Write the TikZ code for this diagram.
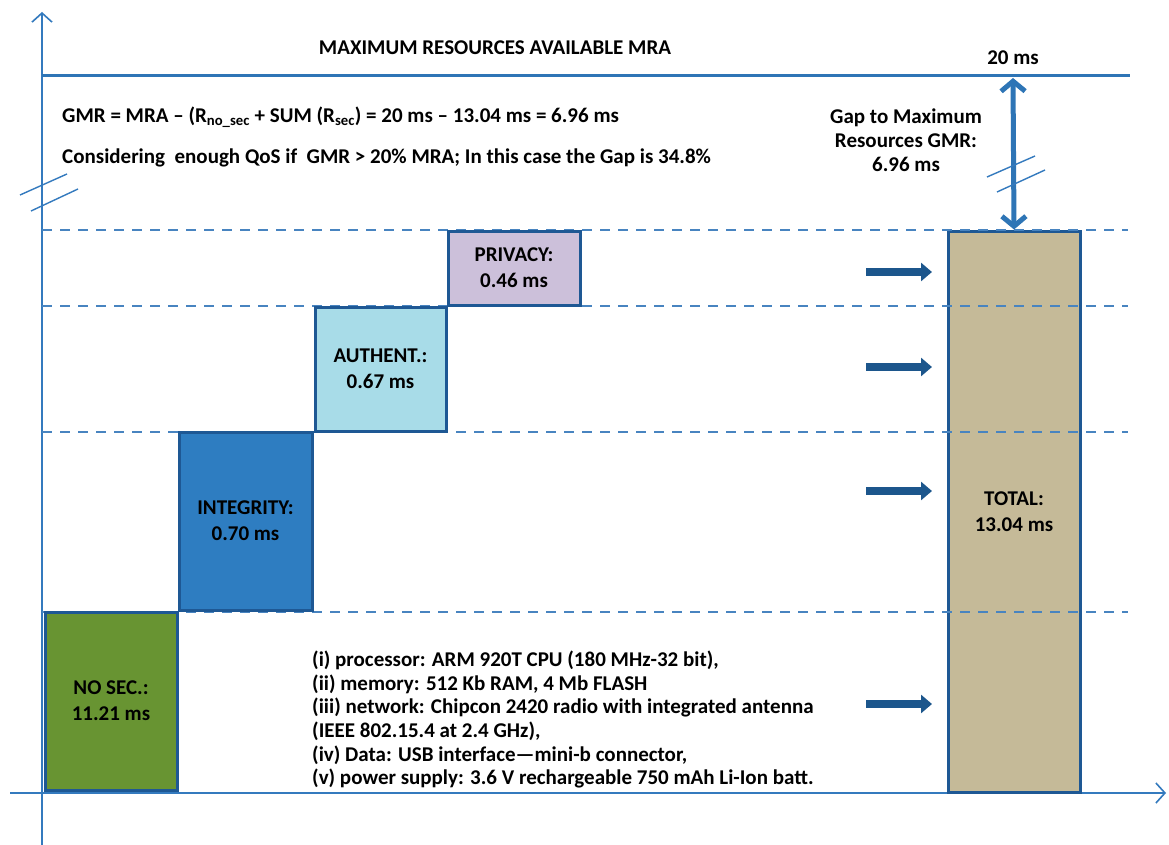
\documentclass[tikz,border=0pt]{standalone}
\usepackage{fontspec}
\setmainfont{Carlito}
\usetikzlibrary{arrows.meta}

\definecolor{axisblue}{RGB}{52,122,190}
\definecolor{mrablue}{RGB}{46,117,182}
\definecolor{edgeblue}{RGB}{30,88,148}
\definecolor{dashblue}{RGB}{72,132,192}
\definecolor{arrowblue}{RGB}{28,86,140}
\definecolor{nosecgreen}{RGB}{104,148,50}
\definecolor{integblue}{RGB}{46,125,193}
\definecolor{authblue}{RGB}{168,220,232}
\definecolor{privlilac}{RGB}{204,192,218}
\definecolor{totaltan}{RGB}{197,186,152}

\tikzset{
  axisline/.style={draw=axisblue, line width=1.6pt},
  axistip/.style={-{Straight Barb[length=9pt,width=20pt,line width=1.6pt]}},
  levelline/.style={draw=dashblue, line width=1.5pt, dash pattern=on 10pt off 8pt},
  breakmark/.style={draw=axisblue, line width=1.4pt},
  stepbox/.style={draw=edgeblue, line width=3pt, inner sep=0pt,
    font=\bfseries\fontsize{21}{26}\selectfont, align=center, text=black},
  pushtip/.style={draw=arrowblue, line width=8pt,
    -{Triangle[length=11pt,width=18pt]}},
  gaparrow/.style={draw=mrablue, line width=5pt,
    {Straight Barb[length=10pt,width=24pt,line width=5pt]}-{Straight Barb[length=10pt,width=24pt,line width=5pt]}},
  txt/.style={font=\bfseries\fontsize{21}{23.6}\selectfont, inner sep=0pt, text=black},
}

\begin{document}
\begin{tikzpicture}[x=1pt,y=-1pt]
\useasboundingbox (0,0) rectangle (1169,845);
\fill[white] (0,0) rectangle (1169,845);

% axes
\coordinate (yfoot) at (42,845);
\coordinate (ytop) at (42,12);
\coordinate (xfoot) at (10,793);
\coordinate (xend) at (1166,793);
\draw[axisline, axistip] (yfoot) -- (ytop);
\draw[axisline, axistip] (xfoot) -- (xend);

% break marks on the vertical axis
\coordinate (bl1a) at (20,195); \coordinate (bl1b) at (67,174);
\coordinate (bl2a) at (31,211); \coordinate (bl2b) at (78,189);
\draw[breakmark] (bl1a) -- (bl1b);
\draw[breakmark] (bl2a) -- (bl2b);

% maximum resources line
\coordinate (mraL) at (42,76);
\coordinate (mraR) at (1130,76);
\draw[draw=mrablue, line width=3pt] (mraL) -- (mraR);
\node[txt] (mratitle) at (495,48) {MAXIMUM RESOURCES AVAILABLE MRA};
\node[txt] (mravalue) at (1013,58) {20 ms};

% formulas
\node[txt, anchor=west] (gmr) at (62,117)
  {GMR = MRA -- (R\textsubscript{no\_sec} + SUM (R\textsubscript{sec}) = 20 ms -- 13.04 ms = 6.96 ms};
\node[txt, anchor=west] (qos) at (62,158)
  {Considering\ \ enough QoS if\ \ GMR > 20\% MRA; In this case the Gap is 34.8\%};

% total box
\node[stepbox, fill=totaltan, minimum width=132pt, minimum height=561pt] (total) at (1014,511.5)
  {TOTAL:\\13.04 ms};

% level lines
\foreach \yy/\nm in {230/lA,306/lB,432/lC,612/lD}{
  \coordinate (\nm L) at (42,\yy);
  \coordinate (\nm R) at (1128,\yy);
  \draw[levelline] (\nm L) -- (\nm R);
}

% stair of contributions
\node[stepbox, fill=nosecgreen, minimum width=132pt, minimum height=178pt] (nosec) at (111,701)
  {NO SEC.:\\11.21 ms};
\node[stepbox, fill=integblue, minimum width=133pt, minimum height=178pt] (integ) at (245.5,521)
  {INTEGRITY:\\0.70 ms};
\node[stepbox, fill=authblue, minimum width=131pt, minimum height=124pt] (auth) at (380.5,369)
  {AUTHENT.:\\0.67 ms};
\node[stepbox, fill=privlilac, minimum width=132pt, minimum height=74pt] (priv) at (514,268)
  {PRIVACY:\\0.46 ms};

% gap between total and maximum
\coordinate (gaptop) at (1013,78);
\draw[gaparrow] (gaptop) -- (total.north);
\coordinate (bg1a) at (987,177); \coordinate (bg1b) at (1035,156);
\coordinate (bg2a) at (997,192); \coordinate (bg2b) at (1045,170);
\draw[breakmark] (bg1a) -- (bg1b);
\draw[breakmark] (bg2a) -- (bg2b);
\node[txt, align=center, font=\bfseries\fontsize{21}{24}\selectfont] (gaplabel) at (906,140)
  {Gap to Maximum\\Resources GMR:\\6.96 ms};

% contributions pushed into the total
\foreach \yy/\nm in {272/pA,367/pB,491/pC,704/pD}{
  \coordinate (\nm s) at (866,\yy);
  \coordinate (\nm e) at (932,\yy);
  \draw[pushtip] (\nm s) -- (\nm e);
}

% platform description
\node[txt, anchor=north west, align=left] (platform) at (312,651)
  {(i) processor: ARM 920T CPU (180 MHz-32 bit),\\
   (ii) memory: 512 Kb RAM, 4 Mb FLASH\\
   (iii) network: Chipcon 2420 radio with integrated antenna\\
   (IEEE 802.15.4 at 2.4 GHz),\\
   (iv) Data: USB interface---mini-b connector,\\
   (v) power supply: 3.6 V rechargeable 750 mAh Li-Ion batt.};
\end{tikzpicture}
\end{document}
